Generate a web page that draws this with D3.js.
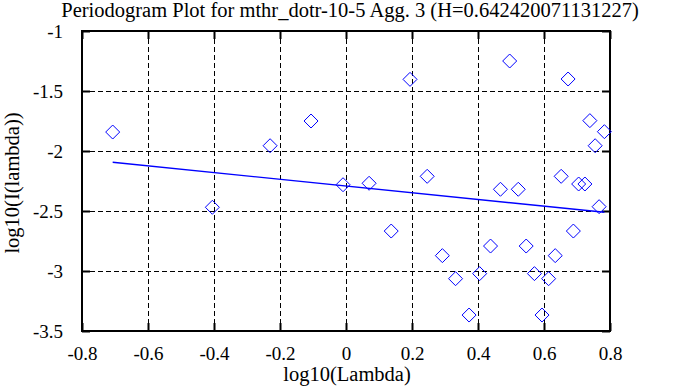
<!DOCTYPE html>
<html>
<head>
<meta charset="utf-8">
<script src="https://cdn.jsdelivr.net/npm/d3@7"></script>
<style>
    body { margin: 0; background: #ffffff; }
    text { font-family: "Liberation Serif", "Times New Roman", serif; }
</style>
</head>
<body>
<svg id="Periodogram"></svg>
<script>
// Chart Title
const title = 'Periodogram Plot for mthr_dotr-10-5 Agg. 3 (H=0.642420071131227)';

// Periodogram points: log10(lambda) and log10(I(lambda))
const logLambda = [
    -0.707, -0.405, -0.230, -0.106, -0.009, 0.070, 0.137, 0.194,
    0.246, 0.292, 0.332, 0.373, 0.405, 0.438, 0.468, 0.496,
    0.522, 0.546, 0.571, 0.594, 0.614, 0.634, 0.652, 0.673,
    0.689, 0.705, 0.724, 0.739, 0.755, 0.767, 0.783
];
const logPower = [
    -1.842, -2.469, -1.956, -1.750, -2.281, -2.269, -2.667, -1.403,
    -2.211, -2.872, -3.064, -3.367, -3.022, -2.792, -2.319, -1.250,
    -2.319, -2.792, -3.022, -3.367, -3.064, -2.872, -2.211, -1.400,
    -2.667, -2.275, -2.275, -1.747, -1.956, -2.464, -1.839
];

// Least squares fit line end points
const fitX = [-0.707, 0.783];
const fitY = [-2.094, -2.511];

// Tick values
const xTicks = [-0.8, -0.6, -0.4, -0.2, 0, 0.2, 0.4, 0.6, 0.8];
const yTicks = [-1, -1.5, -2, -2.5, -3, -3.5];

// SVG Dimensions Variables
let width = 673, height = 387;
let margin = { top: 31, right: 63, bottom: 56, left: 82 };

let svg = d3.select('#Periodogram')
    .attr('width', width)
    .attr('height', height);

let xScale = d3.scaleLinear()
    .domain([-0.8, 0.8])
    .range([margin.left, width - margin.right]);

let yScale = d3.scaleLinear()
    .domain([-3.5, -1])
    .range([height - margin.bottom, margin.top]);

// Plain hyphen minus like the original plot
let plain = (d) => String(d);

// Dashed grid lines
function drawGrid() {
    svg.append('g')
        .selectAll('line')
        .data(xTicks.slice(1, -1))
        .enter()
        .append('line')
        .attr('x1', (d) => xScale(d) + 0.5)
        .attr('x2', (d) => xScale(d) + 0.5)
        .attr('y1', margin.top)
        .attr('y2', height - margin.bottom)
        .attr('stroke', '#000')
        .attr('stroke-dasharray', '5,3');

    svg.append('g')
        .selectAll('line')
        .data(yTicks.slice(1, -1))
        .enter()
        .append('line')
        .attr('y1', (d) => yScale(d) + 0.5)
        .attr('y2', (d) => yScale(d) + 0.5)
        .attr('x1', margin.left)
        .attr('x2', width - margin.right)
        .attr('stroke', '#000')
        .attr('stroke-dasharray', '5,3');
}

// Axes with inward ticks on all four sides
function drawAxes() {
    let bottom = svg.append('g')
        .attr('transform', `translate(0, ${height - margin.bottom})`)
        .call(d3.axisBottom(xScale).tickValues(xTicks).tickSize(-8).tickPadding(16).tickFormat(plain));
    let top = svg.append('g')
        .attr('transform', `translate(0, ${margin.top})`)
        .call(d3.axisTop(xScale).tickValues(xTicks).tickSize(-8).tickFormat(''));
    let left = svg.append('g')
        .attr('transform', `translate(${margin.left}, 0)`)
        .call(d3.axisLeft(yScale).tickValues(yTicks).tickSize(-8).tickPadding(19).tickFormat(plain));
    let right = svg.append('g')
        .attr('transform', `translate(${width - margin.right}, 0)`)
        .call(d3.axisRight(yScale).tickValues(yTicks).tickSize(-8).tickFormat(''));

    [bottom, top, left, right].forEach((g) => {
        g.select('.domain').remove();
        g.selectAll('line').attr('stroke', '#000').attr('stroke-width', 2);
        g.selectAll('text')
            .attr('fill', '#000')
            .style('font-size', '19px');
    });
    left.selectAll('text').attr('dy', '0.36em');

    // Frame
    svg.append('rect')
        .attr('x', margin.left)
        .attr('y', margin.top)
        .attr('width', width - margin.left - margin.right)
        .attr('height', height - margin.top - margin.bottom)
        .attr('fill', 'none')
        .attr('stroke', '#000')
        .attr('stroke-width', 2);
}

// Fitted line and diamond markers
function drawData() {
    svg.append('line')
        .attr('x1', xScale(fitX[0]))
        .attr('y1', yScale(fitY[0]))
        .attr('x2', xScale(fitX[1]))
        .attr('y2', yScale(fitY[1]))
        .attr('stroke', '#0000ff')
        .attr('stroke-width', 1.4);

    let r = 7;
    svg.append('g')
        .selectAll('path')
        .data(logLambda)
        .enter()
        .append('path')
        .attr('transform', (d, i) => `translate(${xScale(d)}, ${yScale(logPower[i])})`)
        .attr('d', `M0,${-r}L${r},0L0,${r}L${-r},0Z`)
        .attr('fill', 'none')
        .attr('stroke', '#0000ff')
        .attr('stroke-width', 1);
}

// Title and axis labels
function drawLabels() {
    svg.append('text')
        .attr('x', (margin.left + width - margin.right) / 2 + 4)
        .attr('y', 17)
        .attr('text-anchor', 'middle')
        .style('font-size', '20.5px')
        .text(title);

    svg.append('text')
        .attr('x', (margin.left + width - margin.right) / 2 + 1)
        .attr('y', 381)
        .attr('text-anchor', 'middle')
        .style('font-size', '20.5px')
        .text('log10(Lambda)');

    svg.append('text')
        .attr('transform', `translate(19, ${(margin.top + height - margin.bottom) / 2 + 2}) rotate(-90)`)
        .attr('text-anchor', 'middle')
        .style('font-size', '20.5px')
        .text('log10(I(lambda))');
}

drawGrid();
drawAxes();
drawData();
drawLabels();
</script>
</body>
</html>
